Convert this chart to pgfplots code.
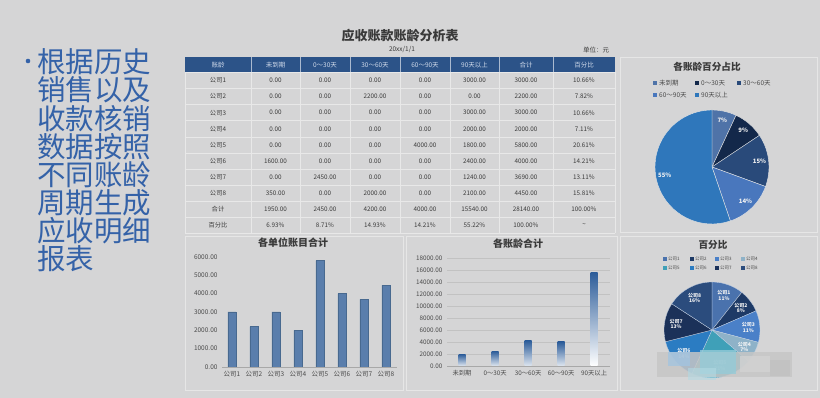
\documentclass[border=0pt]{standalone}
\usepackage{pgfplots}
\pgfplotsset{compat=1.18}
\usepackage{fontspec}
\setmainfont{Noto Sans CJK SC}
\definecolor{bg}{HTML}{D5D5D6}
\definecolor{bul}{HTML}{3462A8}
\definecolor{hdr}{HTML}{2C5388}
\definecolor{hdrt}{HTML}{D0DAEA}
\definecolor{txt}{HTML}{3A3A3A}
\definecolor{cellline}{HTML}{E8E8E8}
\definecolor{panel}{HTML}{E6E6E6}
\definecolor{tickc}{HTML}{4A4A4A}
\definecolor{axc}{HTML}{A8A8A8}
\definecolor{gridc}{HTML}{C2C2C2}
\definecolor{barA}{HTML}{5A7EAC}
\definecolor{barAd}{HTML}{48698F}
\definecolor{barB}{HTML}{2D5D9A}
\definecolor{pA}{HTML}{4F73A8}
\definecolor{pB}{HTML}{13284A}
\definecolor{pC}{HTML}{294A7A}
\definecolor{pD}{HTML}{4977BD}
\definecolor{pE}{HTML}{2F77BB}
\definecolor{c1}{HTML}{4A72AD}
\definecolor{c2}{HTML}{1E3A66}
\definecolor{c3}{HTML}{4A80C8}
\definecolor{c4}{HTML}{8EB2C8}
\definecolor{c5}{HTML}{3FA0B8}
\definecolor{c6}{HTML}{2B7CC2}
\definecolor{c7}{HTML}{1B3159}
\definecolor{c8}{HTML}{2B4C7D}
\begin{document}
\begin{tikzpicture}[x=1pt,y=1pt]
\fill[bg] (0,0) rectangle (820,398);
% ---------- left bullet text ----------
\fill[bul] (28,337) circle (2.3);
\foreach \t [count=\i] in {根据历史,销售以及,收款核销,数据按照,不同账龄,周期生成,应收明细,报表} {
  \node[anchor=west, inner sep=0pt, text=bul, font=\fontsize{28.5}{28.5}\selectfont] at (37,{398-62-28.14*(\i-1)}) {\t};
}
% ---------- panels ----------
\draw[panel, line width=0.9pt] (620,{398-57}) rectangle (817,{398-232});
\draw[panel, line width=0.9pt] (185,{398-236}) rectangle (403,{398-390});
\draw[panel, line width=0.9pt] (406,{398-236}) rectangle (617,{398-390});
\draw[panel, line width=0.9pt] (620,{398-236}) rectangle (817,{398-390});
% ---------- table ----------
\node[font=\fontsize{13}{13}\selectfont\bfseries, text=txt] at (400,{398-36}) {应收账款账龄分析表};
\node[font=\fontsize{6.5}{7}\selectfont, text=txt] at (402,{398-50}) {20xx/1/1};
\node[font=\fontsize{6.5}{7}\selectfont, text=txt] at (596,{398-50}) {单位：元};
\fill[hdr] (185,{398-57}) rectangle (615,{398-72.5});
\foreach \x in {251,300,350,400,450,499,553} {
  \draw[white!60!hdr, line width=0.6pt] (\x,{398-57}) -- (\x,{398-72.5});
  \draw[cellline, line width=0.7pt] (\x,{398-72.5}) -- (\x,{398-233.5});
}
\draw[cellline, line width=0.7pt] (185,{398-72.5}) -- (185,{398-233.5});
\draw[cellline, line width=0.7pt] (615,{398-72.5}) -- (615,{398-233.5});
\foreach \k in {0,...,10} {
  \draw[cellline, line width=0.7pt] (185,{398-72.5-16.1*\k}) -- (615,{398-72.5-16.1*\k});
}
\foreach \h/\x in {账龄/218,未到期/275.5,0～30天/325,30～60天/375,60～90天/425,90天以上/474.5,合计/526,百分比/584} {
  \node[font=\fontsize{6.5}{7}\selectfont, text=hdrt] at (\x,{398-64.8}) {\h};
}
\foreach \r/\a/\b/\c/\d/\e/\f/\g [count=\i] in {
公司1/0.00/0.00/0.00/0.00/3000.00/3000.00/10.66\%,
公司2/0.00/0.00/2200.00/0.00/0.00/2200.00/7.82\%,
公司3/0.00/0.00/0.00/0.00/3000.00/3000.00/10.66\%,
公司4/0.00/0.00/0.00/0.00/2000.00/2000.00/7.11\%,
公司5/0.00/0.00/0.00/4000.00/1800.00/5800.00/20.61\%,
公司6/1600.00/0.00/0.00/0.00/2400.00/4000.00/14.21\%,
公司7/0.00/2450.00/0.00/0.00/1240.00/3690.00/13.11\%,
公司8/350.00/0.00/2000.00/0.00/2100.00/4450.00/15.81\%,
合计/1950.00/2450.00/4200.00/4000.00/15540.00/28140.00/100.00\%,
百分比/6.93\%/8.71\%/14.93\%/14.21\%/55.22\%/100.00\%/\textasciitilde} {
  \pgfmathsetmacro\yy{398-72.5-16.1*(\i-0.5)}
  \begin{scope}[every node/.style={font=\fontsize{6.3}{7}\selectfont, text=txt}]
  \node at (218,\yy) {\r};
  \node at (275.5,\yy) {\a};
  \node at (325,\yy) {\b};
  \node at (375,\yy) {\c};
  \node at (425,\yy) {\d};
  \node at (474.5,\yy) {\e};
  \node at (526,\yy) {\f};
  \node at (584,\yy) {\g};
  \end{scope}
}
% ---------- bar chart 1 ----------
\node[font=\fontsize{10}{10}\selectfont\bfseries, text=txt] at (293,{398-243}) {各单位账目合计};
\begin{axis}[at={(222pt,31pt)}, anchor=south west, scale only axis,
  width=175pt, height=110pt, ybar, bar width=8pt,
  xmin=0.55, xmax=8.5, ymin=0, ymax=6000,
  axis x line*=bottom, axis y line*=left,
  x axis line style={draw=axc,-}, y axis line style={draw=none},
  xtick={1,...,8}, xticklabels={公司1,公司2,公司3,公司4,公司5,公司6,公司7,公司8},
  ytick={0,1000,...,6000}, major tick length=0pt, scaled y ticks=false,
  /pgf/number format/assume math mode=true,
  yticklabel={\pgfmathprintnumber[fixed,fixed zerofill,precision=2,1000 sep={}]{\tick}},
  ticklabel style={font=\fontsize{6.5}{7}\selectfont, text=tickc},
  yticklabel style={xshift=-1pt},
  xticklabel style={yshift=-1pt}]
\addplot[fill=barA, draw=barAd, line width=0.4pt] coordinates {(1,3000) (2,2200) (3,3000) (4,2000) (5,5800) (6,4000) (7,3690) (8,4450)};
\end{axis}
% ---------- bar chart 2 ----------
\node[font=\fontsize{10}{10}\selectfont\bfseries, text=txt] at (518,{398-244}) {各账龄合计};
\begin{axis}[at={(447pt,32pt)}, anchor=south west, scale only axis,
  width=163pt, height=108pt, ybar, bar width=7pt,
  xmin=0.545, xmax=5.48, ymin=0, ymax=18000,
  axis x line*=bottom, axis y line*=left,
  x axis line style={draw=axc,-}, y axis line style={draw=none},
  ymajorgrids, grid style={gridc, line width=0.6pt},
  xtick={1,...,5}, xticklabels={未到期,0～30天,30～60天,60～90天,90天以上},
  ytick={0,2000,...,18000}, major tick length=0pt, scaled y ticks=false,
  /pgf/number format/assume math mode=true,
  yticklabel={\pgfmathprintnumber[fixed,fixed zerofill,precision=2,1000 sep={}]{\tick}},
  ticklabel style={font=\fontsize{6.3}{7}\selectfont, text=tickc},
  yticklabel style={xshift=-1pt},
  xticklabel style={yshift=-1pt},
  gbar/.style={bar shift=0pt, draw=none, top color=barB, middle color=barB!85!white, bottom color=white!85!barB}]
\addplot[gbar] coordinates {(1,1950)};
\addplot[gbar] coordinates {(2,2450)};
\addplot[gbar] coordinates {(3,4200)};
\addplot[gbar] coordinates {(4,4000)};
\addplot[gbar, bottom color=white] coordinates {(5,15540)};
\end{axis}
% ---------- pie 1 ----------
\node[font=\fontsize{9.6}{10}\selectfont\bfseries, text=txt] at (707,{398-67}) {各账龄百分占比};
\foreach \c/\l/\x/\y in {pA/未到期/655/83, pB/0～30天/697/83, pC/30～60天/739/83, pD/60～90天/655/95, pE/90天以上/697/95} {
  \fill[\c] (\x-2,{398-\y-2}) rectangle (\x+2,{398-\y+2});
  \node[anchor=west, inner sep=0pt, font=\fontsize{6.5}{7}\selectfont, text=tickc] at (\x+4,{398-\y}) {\l};
}
\begin{axis}[at={(712pt,231pt)}, anchor=center, scale only axis, width=114pt, height=114pt,
  xmin=-1, xmax=1, ymin=-1, ymax=1, hide axis]
\pgfplotsextra{
  \gdef\cum{0}
  \foreach \p/\c/\l in {6.93/pA/7\%, 8.71/pB/9\%, 14.93/pC/15\%, 14.21/pD/14\%, 55.22/pE/55\%} {
    \pgfmathsetmacro\sa{90-3.6*\cum}
    \pgfmathsetmacro\ea{90-3.6*(\cum+\p)}
    \pgfmathsetmacro\ma{(\sa+\ea)/2}
    \fill[\c, draw=white!80!gray, line width=0.4pt] (axis cs:0,0) -- (axis cs:{cos(\sa)},{sin(\sa)}) arc[start angle=\sa, end angle=\ea, radius=57pt] -- cycle;
    \node[font=\fontsize{6}{6}\selectfont\bfseries, text=white!90!gray] at (axis cs:{0.84*cos(\ma)},{0.84*sin(\ma)}) {\l};
    \pgfmathsetmacro\nc{\cum+\p}\xdef\cum{\nc}
  }
}
\end{axis}
% ---------- pie 2 ----------
\node[font=\fontsize{9.6}{10}\selectfont\bfseries, text=txt] at (713,{398-245}) {百分比};
\foreach \c/\l/\x/\y in {c1/公司1/665/259, c2/公司2/692/259, c3/公司3/717/259, c4/公司4/743/259, c5/公司5/665/268, c6/公司6/692/268, c7/公司7/717/268, c8/公司8/743/268} {
  \fill[\c] (\x-1.6,{398-\y-1.6}) rectangle (\x+1.6,{398-\y+1.6});
  \node[anchor=west, inner sep=0pt, font=\fontsize{4.5}{5}\selectfont, text=tickc] at (\x+3,{398-\y}) {\l};
}
\begin{axis}[at={(712pt,68pt)}, anchor=center, scale only axis, width=96pt, height=96pt,
  xmin=-1, xmax=1, ymin=-1, ymax=1, hide axis]
\pgfplotsextra{
  \gdef\cum{0}
  \foreach \p/\c/\l in {10.66/c1/公司1\\11\%, 7.82/c2/公司2\\8\%, 10.66/c3/公司3\\11\%, 7.11/c4/公司4\\7\%, 20.61/c5/公司5\\21\%, 14.21/c6/公司6\\14\%, 13.11/c7/公司7\\13\%, 15.81/c8/公司8\\16\%} {
    \pgfmathsetmacro\sa{90-3.6*\cum}
    \pgfmathsetmacro\ea{90-3.6*(\cum+\p)}
    \pgfmathsetmacro\ma{(\sa+\ea)/2}
    \fill[\c, draw=white!70!c1, line width=0.3pt] (axis cs:0,0) -- (axis cs:{cos(\sa)},{sin(\sa)}) arc[start angle=\sa, end angle=\ea, radius=48pt] -- cycle;
    \node[align=center, inner sep=0pt, font=\fontsize{5}{5.5}\selectfont\bfseries, text=white!92!gray] at (axis cs:{0.76*cos(\ma)},{0.76*sin(\ma)}) {\l};
    \pgfmathsetmacro\nc{\cum+\p}\xdef\cum{\nc}
  }
}
\end{axis}
% mosaic blur over lower part of pie 2
\fill[gray!45!white, opacity=0.85] (657,{398-377}) rectangle (792,{398-352});
\fill[c5!55!white, opacity=0.8] (700,{398-374}) rectangle (736,{398-350});
\fill[c6!45!white, opacity=0.7] (668,{398-366}) rectangle (690,{398-352});
\fill[gray!35!white, opacity=0.8] (740,{398-372}) rectangle (770,{398-356});
\fill[c5!40!white, opacity=0.6] (688,{398-380}) rectangle (716,{398-368});
\fill[gray!50!white, opacity=0.6] (770,{398-376}) rectangle (790,{398-360});
\end{tikzpicture}
\end{document}
